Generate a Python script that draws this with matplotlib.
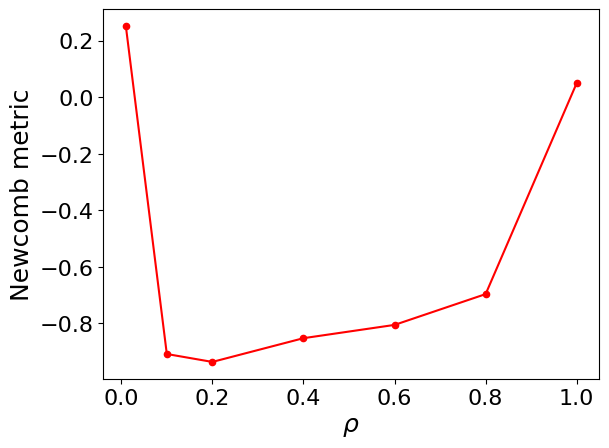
import matplotlib
matplotlib.use("Agg")
import matplotlib.pyplot as plt

rho = [0.01, 0.1, 0.2, 0.4, 0.6, 0.8, 1.0]
newcomb = [0.252, -0.909, -0.937, -0.853, -0.806, -0.697, 0.05]

fig, ax = plt.subplots(figsize=(6.4, 4.8), dpi=100)
ax.plot(rho, newcomb, color="red", marker="o", markersize=4.5, linewidth=1.5)
ax.set_xlabel(r"$\rho$", fontsize=18)
ax.set_ylabel("Newcomb metric", fontsize=18)
ax.tick_params(labelsize=16)
fig.savefig("out.png", bbox_inches="tight")
